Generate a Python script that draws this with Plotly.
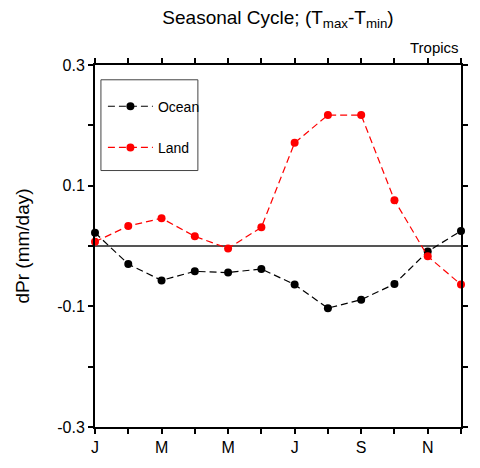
import plotly.graph_objects as go

# Monthly index (Jan..Dec) and month initials
months = ["J", "F", "M", "A", "M", "J", "J", "A", "S", "O", "N", "D"]
month_idx = list(range(12))

# Seasonal cycle of dPr (mm/day)
ocean = [0.022, -0.030, -0.057, -0.042, -0.044, -0.038, -0.064, -0.103, -0.089, -0.063, -0.009, 0.025]
land = [0.007, 0.033, 0.046, 0.016, -0.004, 0.031, 0.171, 0.217, 0.217, 0.076, -0.017, -0.064]

# Y ticks every 0.1, labelled every 0.2
y_ticks = [-0.3, -0.2, -0.1, 0.0, 0.1, 0.2, 0.3]
y_labels = ["-0.3", " ", "-0.1", " ", "0.1", " ", "0.3"]

x_labels = [m if i % 2 == 0 else " " for i, m in enumerate(months)]

FONT = "Liberation Sans, Arial, Helvetica, sans-serif"

fig = go.Figure()
fig.add_trace(go.Scatter(
    x=month_idx, y=ocean, name="Ocean", mode="lines+markers",
    line=dict(color="black", width=1.2, dash="7px,4px"),
    marker=dict(color="black", size=8),
    cliponaxis=False, legendgroup="o",
))
fig.add_trace(go.Scatter(
    x=month_idx, y=land, name="Land", mode="lines+markers",
    line=dict(color="red", width=1.2, dash="7px,4px"),
    marker=dict(color="red", size=8),
    cliponaxis=False, legendgroup="l",
))

L, R, T, B = 95, 15, 65, 36
W, H = 480, 468
ph = H - T - B
pw = W - L - R

def px_x(x):
    return (x - L) / pw

def px_y(y):
    return (H - B - y) / ph

fig.update_layout(
    width=W, height=H,
    margin=dict(l=L, r=R, t=T, b=B),
    paper_bgcolor="white", plot_bgcolor="white",
    font=dict(family=FONT, color="black"),
    title=dict(
        text="Seasonal Cycle; (T<sub>max</sub>-T<sub>min</sub>)",
        x=0.5, xref="paper", xanchor="center",
        y=1 - 17 / H, yref="container", yanchor="middle",
        font=dict(size=19),
    ),
    showlegend=True,
    legend=dict(
        x=px_x(103), y=px_y(91), xanchor="left", yanchor="top",
        bgcolor="rgba(0,0,0,0)", borderwidth=0, itemwidth=45,
        font=dict(size=14), traceorder="grouped", tracegroupgap=20,
    ),
    xaxis=dict(
        range=[0, 11], tickmode="array", tickvals=month_idx, ticktext=x_labels,
        ticks="outside", ticklen=5, tickwidth=1.5, tickcolor="black",
        showline=True, linecolor="black", linewidth=2, mirror="ticks",
        showgrid=False, zeroline=False, tickfont=dict(size=16),
    ),
    yaxis=dict(
        range=[-0.3, 0.3], tickmode="array", tickvals=y_ticks, ticktext=y_labels,
        ticks="outside", ticklen=5, tickwidth=1.5, tickcolor="black",
        showline=True, linecolor="black", linewidth=2, mirror="ticks",
        showgrid=False, zeroline=True, zerolinecolor="#555555", zerolinewidth=1.5,
        tickfont=dict(size=16),
        title=dict(text="dPr (mm/day)", font=dict(size=19), standoff=23),
    ),
    shapes=[dict(
        type="rect", xref="paper", yref="paper",
        x0=px_x(101), x1=px_x(199), y0=px_y(172), y1=px_y(80),
        line=dict(color="#444444", width=1), fillcolor="rgba(0,0,0,0)",
    )],
    annotations=[dict(
        text="Tropics", xref="paper", yref="paper",
        x=1, y=px_y(47), xanchor="right", yanchor="middle",
        showarrow=False, font=dict(size=15),
    )],
)

fig.write_html("out.html")
